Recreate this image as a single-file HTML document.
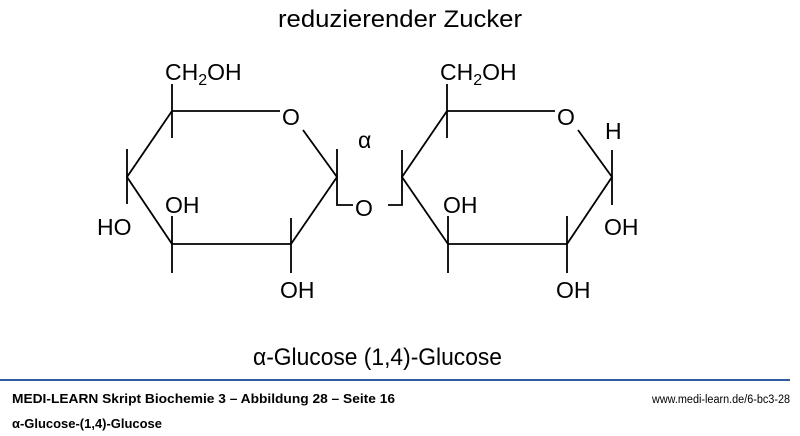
<!DOCTYPE html>
<html><head><meta charset="utf-8"><style>
html,body{margin:0;padding:0;background:#fff;}
svg{display:block;}
text{font-family:"Liberation Sans",sans-serif;fill:#000;}
</style></head><body>
<svg width="800" height="436" viewBox="0 0 800 436" xmlns="http://www.w3.org/2000/svg">
<text x="278" y="27" font-size="24" textLength="244" lengthAdjust="spacingAndGlyphs">reduzierender Zucker</text>
<g stroke="#000" stroke-width="1.8" fill="none">
<path d="M172,111 L280,111 M303,130 L337,177 L291,244 L172,244 L127,177 L172,111"/>
<path d="M172,84 L172,138 M127,149 L127,204 M172,216 L172,273 M291,218 L291,273 M337,149 L337,205 L353,205 M388,205 L402,205 L402,150"/>
<path d="M447,111 L555,111 M578,130 L612,177 L567,244 L448,244 L402,177 L447,111"/>
<path d="M447,84 L447,138 M612,150 L612,205 M448,216 L448,273 M567,216 L567,273"/>
</g>
<g font-size="23">
<text x="165" y="80">CH<tspan font-size="16" dy="5">2</tspan><tspan dy="-5">OH</tspan></text>
<text x="282" y="125">O</text>
<text x="358" y="148">α</text>
<text x="355" y="216">O</text>
<text x="97" y="235">HO</text>
<text x="165" y="213">OH</text>
<text x="280" y="298">OH</text>
<text x="440" y="80">CH<tspan font-size="16" dy="5">2</tspan><tspan dy="-5">OH</tspan></text>
<text x="557" y="125">O</text>
<text x="605" y="139">H</text>
<text x="604" y="235">OH</text>
<text x="443" y="213">OH</text>
<text x="556" y="298">OH</text>
</g>
<text x="253" y="365" font-size="24" textLength="249" lengthAdjust="spacingAndGlyphs">α-Glucose (1,4)-Glucose</text>
<rect x="0" y="379" width="790" height="2" fill="#2e5c9e"/>
<text x="12" y="403" font-size="13" font-weight="bold" textLength="383" lengthAdjust="spacingAndGlyphs">MEDI-LEARN Skript Biochemie 3 – Abbildung 28 – Seite 16</text>
<text x="652" y="403" font-size="11.5" textLength="138" lengthAdjust="spacingAndGlyphs">www.medi-learn.de/6-bc3-28</text>
<text x="12" y="428" font-size="13" font-weight="bold" textLength="150" lengthAdjust="spacingAndGlyphs">α-Glucose-(1,4)-Glucose</text>
</svg>
</body></html>
